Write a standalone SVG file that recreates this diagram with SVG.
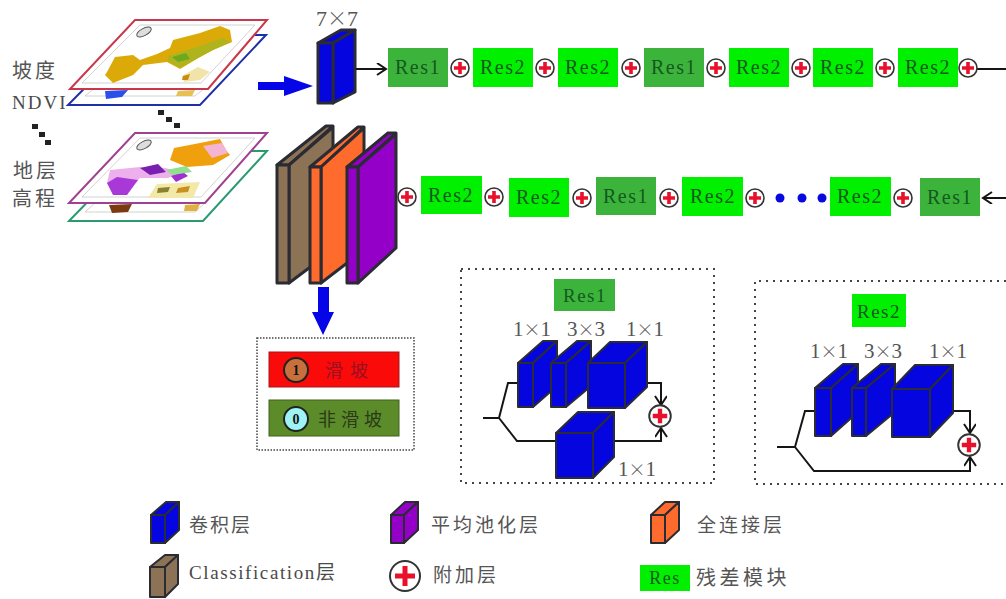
<svg xmlns="http://www.w3.org/2000/svg" width="1006" height="599" viewBox="0 0 1006 599">
<style>
text{font-family:"Liberation Serif","Noto Sans CJK SC",serif;fill:#4a4a4a}
.cjk{font-family:"Noto Sans CJK SC","Liberation Serif",sans-serif;font-size:19px;letter-spacing:3px;fill:#555}
.big{font-size:20px;letter-spacing:3px}
.res{font-size:20px;letter-spacing:1.5px;fill:#14591f;text-anchor:middle}
.dim{font-size:21px;fill:#555;text-anchor:middle}
.x{font-family:"Noto Sans CJK SC",sans-serif;font-size:17px;font-weight:300}
.g1{fill:#3cb43c}.g2{fill:#00f000}
.cb{stroke:#2b2b33;stroke-width:2;stroke-linejoin:round}
.thick .cb{stroke-width:3}
.blue{fill:#0505e0}.brown{fill:#8c7355}.orange{fill:#ff6a2d}.purple{fill:#9400c8}
.ln{fill:none;stroke:#151515;stroke-width:2}
.dot{fill:none;stroke:#444;stroke-width:2;stroke-dasharray:2 5}
.sheet{fill:#fff;stroke-width:2}
.frame{fill:none;stroke:#c4c8c4;stroke-width:.8}
</style>
<defs>
<g id="plus"><circle r="9" fill="#fff" stroke="#333" stroke-width="1.6"/><path d="M-6 0H6M0-6V6" stroke="#e8102a" stroke-width="3.6"/></g>
<marker id="ah" markerWidth="14" markerHeight="14" refX="11" refY="6" orient="auto" markerUnits="userSpaceOnUse"><path d="M2 0L11 6L2 12" fill="none" stroke="#151515" stroke-width="2"/></marker>
</defs>

<g id="map-ndvi"><polygon class="sheet" points="137,35 266,35 200,105 68,105" stroke="#1f2fa8"/><polygon class="frame" points="85,96 195,96 205,88 95,88"/><polygon points="105,91 128,90 122,97 106,99" fill="#2a50e8"/><polygon points="178,91 195,90 192,96 176,96" fill="#e8c050"/></g>
<g id="map-slope"><polygon class="sheet" points="135,20 267,20 208,89 70,89" stroke="#c8384a"/><polygon class="frame" points="140,25 255,25 201,83 82,83"/><polygon points="107,72 115,57 133,55 140,60 157,54 170,48 173,40 200,33 220,26 230,30 232,42 213,50 200,57 180,69 167,62 143,65 133,75 113,83 105,75" fill="#dcaa08"/><polygon points="168,56 200,46 222,38 231,42 213,50 200,57 180,68 168,61" fill="#b0b41c"/><polygon points="172,57 186,53 190,59 178,62" fill="#6fa81e"/><polygon points="182,76 198,67 210,72 200,80 184,82" fill="#f2e4a8"/><polygon points="183,76 190,74 188,80 182,80" fill="#c88c10"/><g transform="translate(144 32) rotate(-28)"><ellipse rx="8" ry="3.6" fill="#ddd" stroke="#555"/></g></g>
<g id="map-strata-back"><polygon class="sheet" points="137,151 267,151 203,221 69,221" stroke="#2a9a70"/><polygon class="frame" points="85,212 195,212 205,203 95,203"/><polygon points="109,205 132,204 128,212 112,213" fill="#7c3a10"/><polygon points="185,205 200,204 197,211 184,211" fill="#e0b040"/></g>
<g id="map-strata"><polygon class="sheet" points="135,133 267,133 205,203 69,203" stroke="#a04090"/><polygon class="frame" points="140,138 255,138 201,197 82,197"/>
<polygon points="170,160 174,148 200,143 220,139 226,150 230,155 213,165 187,167" fill="#f0a00c"/><polygon points="203,146 222,143 228,153 212,158" fill="#f4b4d4"/>
<polygon points="110,170 140,167 165,168 182,172 168,178 140,178 130,188 115,195 107,183" fill="#eeb0ec"/><polygon points="107,183 117,177 138,180 127,195 113,195" fill="#a838d8"/><polygon points="140,168 158,164 166,172 150,175" fill="#7a20b0"/><polygon points="171,176 183,172 188,176 176,182" fill="#a030d0"/><polygon points="166,170 186,166 192,172 172,175" fill="#90e090"/>
<polygon points="157,184 200,182 193,198 148,198" fill="#f2e8a8"/><polygon points="158,188 170,187 168,192 157,193" fill="#8a8030"/><polygon points="178,188 190,186 188,192 176,193" fill="#c89020"/><g transform="translate(144 145) rotate(-28)"><ellipse rx="8" ry="3.6" fill="#ddd" stroke="#555"/></g></g>
<g id="stack-dots" fill="#222"><rect x="158" y="110" width="6" height="5"/><rect x="166" y="117" width="6" height="5"/><rect x="174" y="123" width="6" height="5"/><rect x="32" y="124" width="6" height="5"/><rect x="39" y="132" width="6" height="5"/><rect x="45" y="140" width="6" height="5"/></g>
<g id="labels-input"><text class="cjk big" x="12" y="78">坡度</text><text x="12" y="109" font-size="19" letter-spacing="2">NDVI</text><text class="cjk big" x="13" y="178">地层</text><text class="cjk big" x="12" y="206">高程</text></g>

<g id="arrows-big"><polygon points="258,82 284,82 284,76 313,86 284,96 284,90 258,90" fill="#0505e8"/><polygon points="318,287 329,287 329,312 334,312 323,335 312,312 318,312" fill="#0505e8"/></g>

<g id="conv-7x7" class="thick"><polygon class="cb blue" points="318,43 341,30 355,30 333,43"/><polygon class="cb blue" points="333,43 355,30 355,92 333,103"/><rect class="cb blue" x="318" y="43" width="15" height="60"/><text class="dim" x="337" y="26" style="font-size:22px">7<tspan class="x" style="font-size:20px">×</tspan>7</text></g>
<g id="classification" class="thick"><polygon class="cb brown" points="277,165 326,126 333,126 289,165"/><polygon class="cb brown" points="289,165 333,127 333,250 289,283"/><rect class="cb brown" x="277" y="165" width="12" height="118"/></g>
<g id="full-connected" class="thick"><polygon class="cb orange" points="310,167 358,127 364,127 321,167"/><polygon class="cb orange" points="321,167 364,128 364,250 321,283"/><rect class="cb orange" x="310" y="167" width="11" height="116"/></g>
<g id="avg-pool" class="thick"><polygon class="cb purple" points="347,167 388,133 396,133 358,167"/><polygon class="cb purple" points="358,167 396,134 396,248 358,283"/><rect class="cb purple" x="347" y="167" width="11" height="116"/></g>

<g id="connectors">
<path class="ln" d="M356 69H386" marker-end="url(#ah)"/>
<path class="ln" d="M977 69H1006"/>
<path class="ln" d="M1006 198H983" marker-end="url(#ah)"/>
<path class="ln" d="M483 418H499L508 383H518M499 418L517 441H556M614 441H661V428" marker-end="url(#ah)"/>
<path class="ln" d="M647 383H661V405" marker-end="url(#ah)"/>
<path class="ln" d="M777 447H795L805 411H815M795 447L814 471H970V457" marker-end="url(#ah)"/>
<path class="ln" d="M953 411H970V433" marker-end="url(#ah)"/>
</g>

<g id="row-1">
<g id="r1a"><rect class="g1" x="388" y="48" width="60" height="39"/><text class="res" x="418" y="74">Res1</text></g>
<use href="#plus" x="460" y="68"/>
<g id="r1b"><rect class="g2" x="473" y="48" width="60" height="39"/><text class="res" x="503" y="74">Res2</text></g>
<use href="#plus" x="545" y="68"/>
<g id="r1c"><rect class="g2" x="558" y="48" width="60" height="39"/><text class="res" x="588" y="74">Res2</text></g>
<use href="#plus" x="631" y="68"/>
<g id="r1d"><rect class="g1" x="644" y="48" width="60" height="39"/><text class="res" x="674" y="74">Res1</text></g>
<use href="#plus" x="716" y="68"/>
<g id="r1e"><rect class="g2" x="729" y="48" width="60" height="39"/><text class="res" x="759" y="74">Res2</text></g>
<use href="#plus" x="801" y="68"/>
<g id="r1f"><rect class="g2" x="813" y="48" width="60" height="39"/><text class="res" x="843" y="74">Res2</text></g>
<use href="#plus" x="885" y="68"/>
<g id="r1g"><rect class="g2" x="898" y="48" width="60" height="39"/><text class="res" x="928" y="74">Res2</text></g>
<use href="#plus" x="968" y="68"/>
</g>

<g id="row-2">
<use href="#plus" x="407" y="197"/>
<g id="r2a"><rect class="g2" x="421" y="176" width="61" height="38"/><text class="res" x="451" y="202">Res2</text></g>
<use href="#plus" x="494" y="197"/>
<g id="r2b"><rect class="g2" x="509" y="178" width="60" height="39"/><text class="res" x="539" y="204">Res2</text></g>
<use href="#plus" x="582" y="198"/>
<g id="r2c"><rect class="g1" x="596" y="177" width="60" height="38"/><text class="res" x="626" y="203">Res1</text></g>
<use href="#plus" x="669" y="198"/>
<g id="r2d"><rect class="g2" x="682" y="177" width="61" height="39"/><text class="res" x="713" y="203">Res2</text></g>
<use href="#plus" x="755" y="198"/>
<g id="ellipsis" fill="#0808e0"><circle cx="780" cy="198" r="4.5"/><circle cx="802" cy="198" r="4.5"/><circle cx="822" cy="198" r="4.5"/></g>
<g id="r2e"><rect class="g2" x="830" y="177" width="61" height="39"/><text class="res" x="860" y="203">Res2</text></g>
<use href="#plus" x="903" y="198"/>
<g id="r2f"><rect class="g1" x="920" y="178" width="60" height="38"/><text class="res" x="950" y="204">Res1</text></g>
</g>

<g id="output">
<rect x="257" y="338" width="157" height="112" fill="#fff" stroke="#444" stroke-width="1.5" stroke-dasharray="1.5 1.5"/>
<rect x="269" y="352" width="130" height="35" fill="#fb0a0a" stroke="#a01818"/>
<rect x="269" y="400" width="130" height="36" fill="#5c8c2a" stroke="#40601c"/>
<circle cx="296" cy="370" r="12" fill="#c8703c" stroke="#222" stroke-width="2"/><text x="296" y="375" font-size="14" font-weight="bold" text-anchor="middle" style="fill:#111">1</text>
<circle cx="296" cy="419" r="12" fill="#9ef4f4" stroke="#222" stroke-width="2"/><text x="296" y="424" font-size="14" font-weight="bold" text-anchor="middle" style="fill:#111">0</text>
<text class="cjk" x="325" y="377" style="fill:#9a1020;font-size:18px;letter-spacing:7px">滑坡</text>
<text class="cjk" x="318" y="426" style="fill:#2a3a18;font-size:18px;letter-spacing:5px">非滑坡</text>
</g>

<g id="res1-detail">
<rect class="dot" x="461" y="269" width="253" height="214"/>
<rect class="g1" x="554" y="279" width="61" height="32"/><text class="res" x="585" y="302" style="font-size:19px">Res1</text>
<text class="dim" x="532" y="336">1<tspan class="x">×</tspan>1</text><text class="dim" x="586" y="336">3<tspan class="x">×</tspan>3</text><text class="dim" x="645" y="336">1<tspan class="x">×</tspan>1</text>
<g id="res1-b1"><polygon class="cb blue" points="518,363 543,341 557,341 533,363"/><polygon class="cb blue" points="533,363 557,341 557,386 533,407"/><rect class="cb blue" x="518" y="363" width="15" height="44"/></g>
<g id="res1-b2"><polygon class="cb blue" points="551,363 577,341 591,341 566,363"/><polygon class="cb blue" points="566,363 591,341 591,386 566,407"/><rect class="cb blue" x="551" y="363" width="15" height="44"/></g>
<g id="res1-b3"><polygon class="cb blue" points="588,363 610,342 647,342 625,363"/><polygon class="cb blue" points="625,363 647,342 647,387 625,408"/><rect class="cb blue" x="588" y="363" width="37" height="45"/></g>
<g id="res1-b4"><polygon class="cb blue" points="556,433 578,412 614,412 593,433"/><polygon class="cb blue" points="593,433 614,412 614,457 593,478"/><rect class="cb blue" x="556" y="433" width="37" height="45"/></g>
<text class="dim" x="637" y="476">1<tspan class="x">×</tspan>1</text>
<use href="#plus" transform="translate(660 416) scale(1.2)"/>
</g>

<g id="res2-detail">
<path class="dot" d="M1006 281H755V484H1006"/>
<rect class="g2" x="852" y="294" width="54" height="33"/><text class="res" x="879" y="318" style="font-size:19px">Res2</text>
<text class="dim" x="829" y="358">1<tspan class="x">×</tspan>1</text><text class="dim" x="883" y="358">3<tspan class="x">×</tspan>3</text><text class="dim" x="948" y="358">1<tspan class="x">×</tspan>1</text>
<g id="res2-b1"><polygon class="cb blue" points="815,388 843,364 858,364 831,388"/><polygon class="cb blue" points="831,388 858,364 858,412 831,436"/><rect class="cb blue" x="815" y="388" width="16" height="48"/></g>
<g id="res2-b2"><polygon class="cb blue" points="852,388 881,364 895,364 866,388"/><polygon class="cb blue" points="866,388 895,364 895,412 866,436"/><rect class="cb blue" x="852" y="388" width="14" height="48"/></g>
<g id="res2-b3"><polygon class="cb blue" points="892,389 915,365 953,365 930,389"/><polygon class="cb blue" points="930,389 953,365 953,413 930,437"/><rect class="cb blue" x="892" y="389" width="38" height="48"/></g>
<use href="#plus" transform="translate(969 445) scale(1.2)"/>
</g>

<g id="legend">
<g id="lg-conv"><polygon class="cb blue" points="151,515 166,502 179,502 165,515"/><polygon class="cb blue" points="165,515 179,502 179,530 165,543"/><rect class="cb blue" x="151" y="515" width="14" height="28"/><text class="cjk" x="189" y="532" style="letter-spacing:2px">卷积层</text></g>
<g id="lg-pool"><polygon class="cb purple" points="391,515 405,502 418,502 404,515"/><polygon class="cb purple" points="404,515 418,502 418,530 404,543"/><rect class="cb purple" x="391" y="515" width="13" height="28"/><text class="cjk" x="431" y="532" style="letter-spacing:3px">平均池化层</text></g>
<g id="lg-fc"><polygon class="cb orange" points="651,515 665,502 679,502 665,515"/><polygon class="cb orange" points="665,515 679,502 679,530 665,543"/><rect class="cb orange" x="651" y="515" width="14" height="28"/><text class="cjk" x="697" y="532">全连接层</text></g>
<g id="lg-class"><polygon class="cb brown" points="150,567 165,555 178,555 165,567"/><polygon class="cb brown" points="165,567 178,555 178,584 165,597"/><rect class="cb brown" x="150" y="567" width="15" height="30"/><text x="189" y="579" font-size="19" letter-spacing="1.6">Classification<tspan style="font-family:'Noto Sans CJK SC',sans-serif">层</tspan></text></g>
<g id="lg-add"><circle cx="405" cy="576" r="15" fill="#fff" stroke="#333" stroke-width="2"/><path d="M395 576H415M405 566V586" stroke="#e8102a" stroke-width="5"/><text class="cjk" x="433" y="582">附加层</text></g>
<g id="lg-res"><rect class="g2" x="640" y="565" width="50" height="26"/><text class="res" x="665" y="584" style="font-size:18px">Res</text><text class="cjk" x="696" y="585" style="font-size:20px;letter-spacing:3.5px">残差模块</text></g>
</g>
</svg>
